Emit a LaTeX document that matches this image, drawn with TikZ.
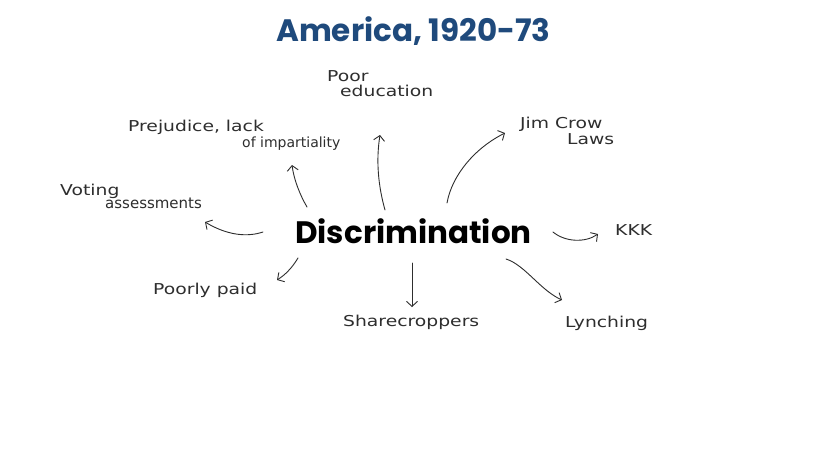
\documentclass[tikz,border=0pt]{standalone}
\usepackage{fontspec}
\usetikzlibrary{arrows.meta}
\newfontfamily\pop{Poppins}
\newfontfamily\hand{DejaVu Sans}[FakeStretch=1.25]
\newfontfamily\handn{DejaVu Sans}
\definecolor{titleblue}{HTML}{1F4A7C}
\definecolor{pen}{HTML}{2E2E2E}
\tikzset{
  handlbl/.style={font=\hand\fontsize{15}{17}\selectfont, text=pen, inner sep=0pt, align=left, anchor=north west},
  penarrow/.style={draw=pen, line width=0.9pt, line cap=round, -{Straight Barb[length=5pt,width=11pt]}}
}
\begin{document}
\begin{tikzpicture}[x=1pt,y=-1pt]
\useasboundingbox[fill=white] (0,0) rectangle (828,466);
\node[font=\pop\bfseries\fontsize{31}{35}\selectfont, text=titleblue] (title) at (413.5,31) {America, 1920-73};
\node[font=\pop\bfseries\fontsize{31}{35}\selectfont, text=black] (disc) at (413.5,231) {Discrimination};

\node[handlbl] (poor) at (327,70) {Poor\\[-2pt]\hspace*{13pt}education};
\node[handlbl] (prej) at (128,120) {Prejudice, lack\\[-1pt]\hspace*{114pt}{\handn\fontsize{14}{16}\selectfont of impartiality}};
\node[handlbl] (jim) at (520,117) {Jim Crow\\[-1pt]\hspace*{47pt}Laws};
\node[handlbl] (vote) at (60,184) {Voting\\[-4pt]\hspace*{45pt}{\handn\fontsize{15}{17}\selectfont assessments}};
\node[handlbl] (kkk) at (615,224) {KKK};
\node[handlbl] (paid) at (153,283) {Poorly paid};
\node[handlbl] (share) at (343,315) {Sharecroppers};
\node[handlbl] (lynch) at (565,316) {Lynching};

\coordinate (s1) at (307,207); \coordinate (e1) at (292,165);
\coordinate (s2) at (385,210); \coordinate (e2) at (380,135);
\coordinate (s3) at (447,203); \coordinate (e3) at (505,133);
\coordinate (s4) at (263,232); \coordinate (e4) at (205,222);
\coordinate (s5) at (553,232); \coordinate (e5) at (598,234);
\coordinate (s6) at (298,258); \coordinate (e6) at (277,280);
\coordinate (s7) at (412,263); \coordinate (e7) at (412,307);
\coordinate (s8) at (506,259); \coordinate (e8) at (562,300);

\draw[penarrow] (s1) .. controls (300,195) and (294,180) .. (e1);
\draw[penarrow] (s2) .. controls (378,185) and (376,160) .. (e2);
\draw[penarrow] (s3) .. controls (452,175) and (475,148) .. (e3);
\draw[penarrow] (s4) .. controls (245,238) and (225,234) .. (e4);
\draw[penarrow] (s5) .. controls (565,242) and (585,243) .. (e5);
\draw[penarrow] (s6) .. controls (292,268) and (285,275) .. (e6);
\draw[penarrow] (s7) -- (e7);
\draw[penarrow] (s8) .. controls (525,265) and (540,290) .. (e8);
\end{tikzpicture}
\end{document}
